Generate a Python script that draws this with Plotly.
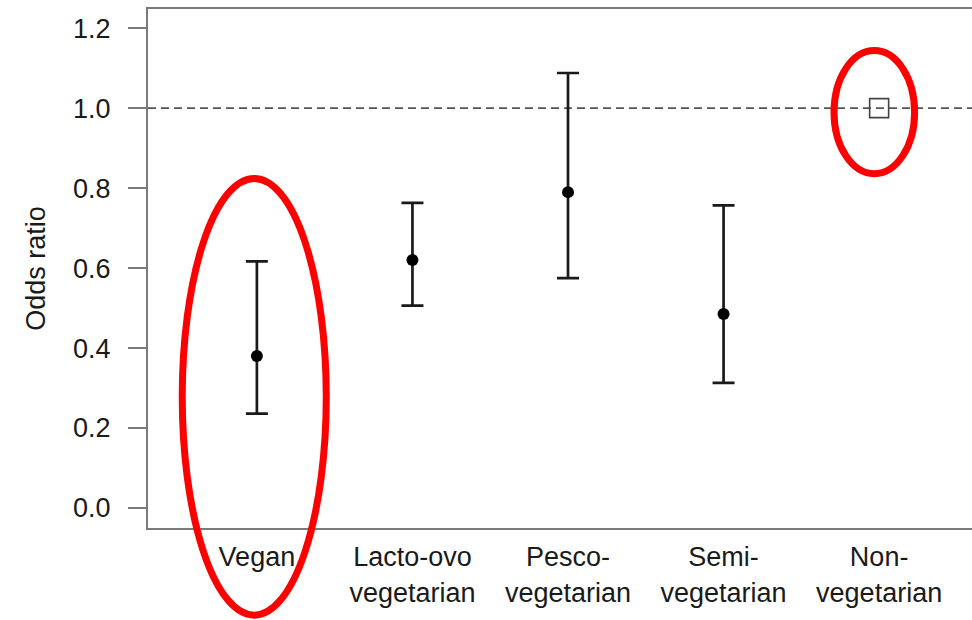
import plotly.graph_objects as go

# Odds ratios (with 95% CI) by diet group; non-vegetarians are the reference group
groups = ["Vegan", "Lacto-ovo<br>vegetarian", "Pesco-<br>vegetarian",
          "Semi-<br>vegetarian", "Non-<br>vegetarian"]
odds_ratio = [0.38, 0.62, 0.79, 0.485, 1.0]
ci_low = [0.236, 0.506, 0.575, 0.313]
ci_high = [0.617, 0.763, 1.088, 0.757]
y_ticks = [0.0, 0.2, 0.4, 0.6, 0.8, 1.0, 1.2]

x_pos = list(range(len(groups)))
X_RANGE = [-0.70, 4.597]
Y_RANGE = [-0.05, 1.248]

FONT = "Liberation Sans, Arial, Helvetica, sans-serif"
AXIS_GREY = "#7a7a7a"
INK = "#1a1a1a"

fig = go.Figure()

# reference line at OR = 1
fig.add_hline(y=1.0, line=dict(color="#555555", width=1.6, dash="8px,5px"), layer="below")

# estimated groups with confidence intervals
est_x = x_pos[:4]
est_y = odds_ratio[:4]
fig.add_trace(go.Scatter(
    x=est_x, y=est_y, mode="markers",
    marker=dict(color="black", size=12),
    error_y=dict(type="data", symmetric=False,
                 array=[h - m for h, m in zip(ci_high, est_y)],
                 arrayminus=[m - l for m, l in zip(est_y, ci_low)],
                 color=INK, thickness=2.7, width=11),
    showlegend=False, hoverinfo="skip",
))

# reference group: open square
fig.add_trace(go.Scatter(
    x=[x_pos[4]], y=[odds_ratio[4]], mode="markers",
    marker=dict(symbol="square-open", size=19, color="#444444", line=dict(width=1.6)),
    showlegend=False, hoverinfo="skip",
))


def to_paper_x(v):
    return (v - X_RANGE[0]) / (X_RANGE[1] - X_RANGE[0])


def to_paper_y(v):
    return (v - Y_RANGE[0]) / (Y_RANGE[1] - Y_RANGE[0])


# red highlight ellipses: (centre x, centre y, half width, half height) in data units
highlights = [
    (-0.017, 0.278, 0.463, 0.546),
    (3.969, 0.990, 0.259, 0.154),
]
for cx, cy, hw, hh in highlights:
    fig.add_shape(type="circle", xref="paper", yref="paper",
                  x0=to_paper_x(cx - hw), x1=to_paper_x(cx + hw),
                  y0=to_paper_y(cy - hh), y1=to_paper_y(cy + hh),
                  line=dict(color="#ff0000", width=7), layer="above")

fig.update_layout(
    width=972, height=620,
    margin=dict(l=148, r=0, t=9, b=92),
    paper_bgcolor="white", plot_bgcolor="white",
    font=dict(family=FONT, color=INK, size=27),
    showlegend=False,
)
fig.update_xaxes(
    range=X_RANGE, tickvals=x_pos, ticktext=groups,
    showgrid=False, zeroline=False,
    showline=True, mirror=True, linecolor=AXIS_GREY, linewidth=2,
    ticks="", ticklabelstandoff=4,
    tickfont=dict(size=27, color=INK),
)
fig.update_yaxes(
    range=Y_RANGE, tickvals=y_ticks, ticktext=[f"{v:.1f}" for v in y_ticks],
    showgrid=False, zeroline=False,
    showline=True, mirror=False, linecolor=AXIS_GREY, linewidth=2,
    ticks="outside", ticklen=18, tickwidth=2, tickcolor=AXIS_GREY,
    ticklabelstandoff=12,
    tickfont=dict(size=27, color=INK),
    title=dict(text="Odds ratio", font=dict(size=27, color=INK), standoff=20),
)

fig.write_html("out.html")
